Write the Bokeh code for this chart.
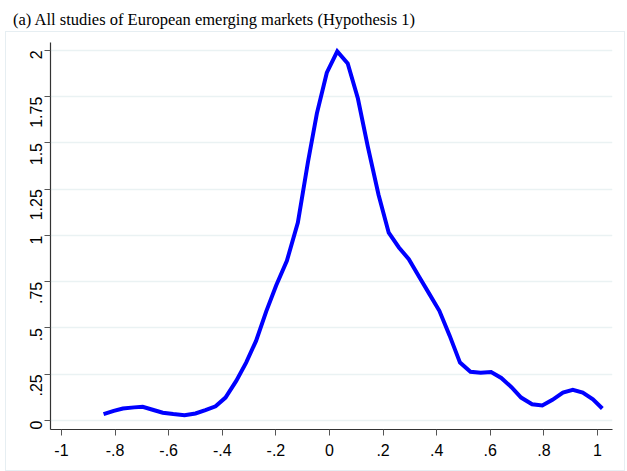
import math
from bokeh.plotting import figure
from bokeh.models import FixedTicker, Range1d, Div
from bokeh.layouts import column
from bokeh.embed import file_html
from bokeh.resources import INLINE

x_vals = [-0.843, -0.805, -0.771, -0.729, -0.697, -0.660, -0.622, -0.583, -0.541, -0.500,
          -0.463, -0.425, -0.388, -0.348, -0.311, -0.274, -0.236, -0.199, -0.159, -0.118,
          -0.080, -0.047, -0.010, 0.029, 0.068, 0.106, 0.143, 0.183, 0.221, 0.259,
          0.296, 0.335, 0.373, 0.410, 0.448, 0.487, 0.526, 0.564, 0.603, 0.641,
          0.679, 0.715, 0.756, 0.794, 0.832, 0.871, 0.908, 0.945, 0.983, 1.018]
density = [0.034, 0.052, 0.065, 0.071, 0.074, 0.058, 0.042, 0.035, 0.029, 0.038,
           0.056, 0.077, 0.124, 0.214, 0.313, 0.430, 0.590, 0.730, 0.863, 1.070,
           1.400, 1.660, 1.880, 1.995, 1.930, 1.740, 1.480, 1.220, 1.015, 0.935,
           0.872, 0.775, 0.683, 0.593, 0.460, 0.313, 0.263, 0.258, 0.262, 0.230,
           0.180, 0.124, 0.088, 0.081, 0.112, 0.151, 0.166, 0.151, 0.115, 0.065]

x_ticks = [-1, -0.8, -0.6, -0.4, -0.2, 0, 0.2, 0.4, 0.6, 0.8, 1]
x_tick_labels = ["-1", "-.8", "-.6", "-.4", "-.2", "0", ".2", ".4", ".6", ".8", "1"]
y_ticks = [0, 0.25, 0.5, 0.75, 1, 1.25, 1.5, 1.75, 2]
y_tick_labels = ["0", ".25", ".5", ".75", "1", "1.25", "1.5", "1.75", "2"]
title_text = "(a) All studies of European emerging markets (Hypothesis 1)"

title_div = Div(text=title_text, width=610, height=21,
                styles={"font-family": "Liberation Serif", "font-size": "16.5px",
                        "color": "black", "padding-left": "8px", "padding-top": "6px",
                        "line-height": "18px"})

p = figure(width=620, height=440, output_backend="svg", toolbar_location=None,
           x_range=Range1d(-1.041, 1.056), y_range=Range1d(-0.0486, 2.043),
           min_border_left=44, min_border_right=14, min_border_bottom=43, min_border_top=10,
           styles={"border": "1px solid #E6EEF2", "margin-left": "5px"})

p.line(x_vals, density, line_color="#0000FF", line_width=4, line_join="miter")

p.outline_line_color = None
p.background_fill_color = "white"
p.border_fill_color = "white"

p.xgrid.grid_line_color = None
p.ygrid.grid_line_color = "#EAF2F3"
p.ygrid.grid_line_width = 1.5

p.xaxis.ticker = FixedTicker(ticks=x_ticks)
p.xaxis.major_label_overrides = {t: l for t, l in zip(x_ticks, x_tick_labels)}
p.yaxis.ticker = FixedTicker(ticks=y_ticks)
p.yaxis.major_label_overrides = {t: l for t, l in zip(y_ticks, y_tick_labels)}
p.ygrid.ticker = FixedTicker(ticks=y_ticks)
p.yaxis.major_label_orientation = math.pi / 2

for ax in (p.xaxis, p.yaxis):
    ax.axis_line_color = "#333333"
    ax.axis_line_width = 1.2
    ax.major_tick_line_color = "#555555"
    ax.major_tick_out = 6
    ax.major_tick_in = 0
    ax.minor_tick_line_color = None
    ax.major_label_text_font = "Liberation Sans"
    ax.major_label_text_font_size = "16px"
    ax.major_label_text_color = "black"
p.xaxis.major_label_standoff = 8
p.yaxis.major_label_standoff = 8

layout = column(title_div, p, spacing=0)

open("out.html", "w").write(file_html(layout, INLINE))
